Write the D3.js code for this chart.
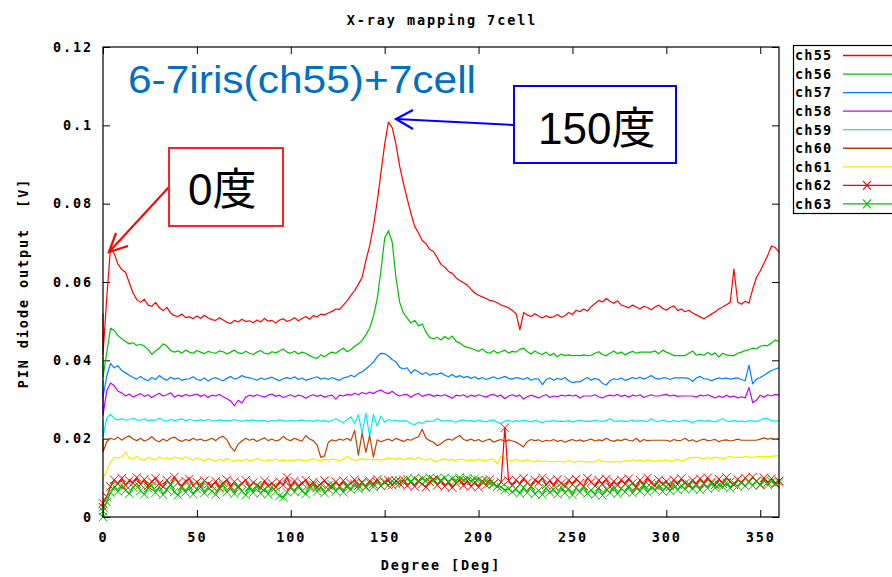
<!DOCTYPE html>
<html><head><meta charset="utf-8">
<script src="https://cdn.jsdelivr.net/npm/d3@7"></script>
<style>body{margin:0;background:#fff}svg{display:block}</style>
</head><body>
<svg id="c" width="892" height="577"></svg>
<script>
// Degree sampling grid (first point repeated at 0 deg, as in the recorded scan)
const degrees = [0].concat(d3.range(0, 361, 2));

const ch55 = [0.052,0.0414,0.056,0.0688,0.0672,0.0645,0.0632,0.0625,0.0598,0.0572,0.0555,
0.0548,0.0556,0.0541,0.0538,0.0548,0.0534,0.0527,0.0535,0.0521,0.0514,
0.0512,0.0518,0.0509,0.0511,0.0506,0.0513,0.0507,0.0515,0.0508,0.0504,
0.0502,0.0509,0.0503,0.0497,0.0494,0.0502,0.0498,0.0505,0.0499,0.0501,
0.0496,0.0503,0.0498,0.0507,0.0500,0.0502,0.0495,0.0503,0.0506,0.0499,
0.0503,0.0509,0.0501,0.0507,0.0512,0.0505,0.0514,0.0511,0.0518,0.0516,
0.0521,0.0525,0.0531,0.0530,0.0541,0.0552,0.0566,0.0578,0.0594,0.0612,
0.0655,0.0692,0.0742,0.0805,0.0878,0.0952,0.1008,0.0994,0.0952,0.0895,
0.0852,0.0812,0.0775,0.0742,0.0725,0.0706,0.0698,0.0683,0.0678,0.0662,
0.0645,0.0638,0.0627,0.0622,0.0611,0.0604,0.0598,0.0592,0.0581,0.0572,
0.0566,0.0562,0.0558,0.0553,0.0551,0.0547,0.0541,0.0538,0.0534,0.0527,
0.0519,0.0478,0.0522,0.0516,0.0512,0.0519,0.0513,0.0508,0.0514,0.0509,
0.0511,0.0517,0.0510,0.0514,0.0522,0.0517,0.0528,0.0524,0.0531,0.0526,
0.0537,0.0545,0.0553,0.0549,0.0558,0.0551,0.0546,0.0552,0.0541,0.0538,
0.0534,0.0541,0.0536,0.0531,0.0538,0.0535,0.0529,0.0536,0.0541,0.0533,
0.0528,0.0535,0.0539,0.0527,0.0531,0.0524,0.0528,0.0521,0.0516,0.0511,
0.0506,0.0512,0.0518,0.0524,0.0531,0.0536,0.0542,0.0548,0.0633,0.0549,
0.0543,0.0551,0.0546,0.0582,0.0612,0.0628,0.0648,0.0668,0.0692,0.0688,
0.0676];

const ch56 = [0.041,0.0357,0.042,0.0482,0.0476,0.0463,0.0455,0.0448,0.0442,0.0445,0.0438,
0.0441,0.0436,0.0428,0.0415,0.0424,0.0431,0.0442,0.0437,0.0425,0.0421,
0.0424,0.0419,0.0426,0.0421,0.0418,0.0425,0.0421,0.0417,0.0423,0.0420,
0.0418,0.0424,0.0422,0.0416,0.0421,0.0426,0.0419,0.0417,0.0423,0.0418,
0.0415,0.0421,0.0425,0.0418,0.0416,0.0422,0.0419,0.0424,0.0429,0.0421,
0.0418,0.0423,0.0416,0.0421,0.0418,0.0412,0.0408,0.0405,0.0414,0.0409,
0.0416,0.0421,0.0418,0.0425,0.0431,0.0422,0.0427,0.0436,0.0442,0.0451,
0.0465,0.0482,0.0512,0.0556,0.0628,0.0712,0.0731,0.0702,0.0612,0.0548,
0.0521,0.0508,0.0495,0.0502,0.0488,0.0493,0.0472,0.0458,0.0455,0.0459,
0.0452,0.0461,0.0454,0.0462,0.0449,0.0444,0.0437,0.0433,0.0431,0.0427,
0.0423,0.0429,0.0421,0.0418,0.0425,0.0419,0.0422,0.0426,0.0419,0.0423,
0.0421,0.0428,0.0431,0.0422,0.0416,0.0424,0.0418,0.0415,0.0421,0.0412,
0.0418,0.0409,0.0416,0.0412,0.0414,0.0412,0.0413,0.0412,0.0414,0.0412,
0.0413,0.0418,0.0422,0.0415,0.0412,0.0418,0.0424,0.0417,0.0421,0.0414,
0.0419,0.0423,0.0418,0.0421,0.0421,0.0421,0.0421,0.0424,0.0417,0.0426,
0.0421,0.0417,0.0412,0.0412,0.0412,0.0412,0.0418,0.0424,0.0413,0.0416,
0.0413,0.0420,0.0414,0.0419,0.0408,0.0418,0.0414,0.0412,0.0412,0.0418,
0.0421,0.0425,0.0427,0.0431,0.0429,0.0436,0.0438,0.0437,0.0444,0.0452,
0.0448];

const ch57 = [0.035,0.0306,0.036,0.0392,0.0381,0.0386,0.0374,0.0368,0.0362,0.0356,0.0352,
0.0359,0.0352,0.0348,0.0356,0.0351,0.0361,0.0354,0.0349,0.0357,0.0352,
0.0355,0.0349,0.0352,0.0353,0.0358,0.0351,0.0349,0.0355,0.0347,0.0353,
0.0356,0.0351,0.0348,0.0354,0.0359,0.0352,0.0355,0.0361,0.0357,0.0355,
0.0353,0.0349,0.0355,0.0351,0.0354,0.0357,0.0352,0.0348,0.0353,0.0356,
0.0353,0.0358,0.0351,0.0355,0.0349,0.0352,0.0355,0.0358,0.0352,0.0355,
0.0351,0.0356,0.0352,0.0349,0.0355,0.0357,0.0362,0.0358,0.0366,0.0371,
0.0378,0.0386,0.0395,0.0409,0.0418,0.0417,0.0411,0.0402,0.0396,0.0382,
0.0378,0.0381,0.0367,0.0376,0.0371,0.0364,0.0369,0.0362,0.0366,0.0364,
0.0368,0.0362,0.0358,0.0364,0.0357,0.0361,0.0356,0.0359,0.0354,0.0358,
0.0352,0.0356,0.0351,0.0354,0.0358,0.0353,0.0355,0.0359,0.0354,0.0352,
0.0356,0.0354,0.0351,0.0356,0.0349,0.0353,0.0352,0.0338,0.0351,0.0355,
0.0349,0.0354,0.0351,0.0356,0.0348,0.0343,0.0345,0.0345,0.0351,0.0356,
0.0349,0.0354,0.0351,0.0341,0.0337,0.0348,0.0353,0.0351,0.0355,0.0349,
0.0352,0.0356,0.0353,0.0357,0.0352,0.0356,0.0361,0.0354,0.0352,0.0355,
0.0355,0.0351,0.0355,0.0355,0.0355,0.0355,0.0354,0.0346,0.0355,0.0359,
0.0353,0.0352,0.0348,0.0352,0.0355,0.0353,0.0355,0.0352,0.0354,0.0355,
0.0351,0.0348,0.0388,0.0340,0.0352,0.0356,0.0362,0.0368,0.0374,0.0378,
0.0381];

const ch58 = [0.032,0.026,0.0322,0.0342,0.0335,0.0321,0.0317,0.0309,0.0314,0.0306,0.0311,
0.0315,0.0308,0.0312,0.0305,0.0311,0.0316,0.0309,0.0312,0.0317,0.0306,
0.0311,0.0308,0.0313,0.0309,0.0311,0.0314,0.0308,0.0312,0.0305,0.0311,
0.0309,0.0313,0.0307,0.0302,0.0296,0.0284,0.0298,0.0291,0.0306,0.0311,
0.0308,0.0312,0.0309,0.0306,0.0311,0.0314,0.0308,0.0311,0.0305,0.0309,
0.0312,0.0307,0.0311,0.0309,0.0303,0.0309,0.0312,0.0308,0.0311,0.0306,
0.0309,0.0311,0.0301,0.0311,0.0309,0.0313,0.0311,0.0316,0.0312,0.0318,
0.0314,0.0319,0.0315,0.0321,0.0324,0.0318,0.0315,0.0321,0.0313,0.0309,
0.0312,0.0313,0.0306,0.0312,0.0316,0.0308,0.0311,0.0313,0.0308,0.0311,
0.0309,0.0312,0.0308,0.0303,0.0311,0.0309,0.0312,0.0306,0.0311,0.0308,
0.0312,0.0309,0.0306,0.0311,0.0313,0.0308,0.0311,0.0302,0.0309,0.0312,
0.0308,0.0311,0.0301,0.0307,0.0311,0.0308,0.0304,0.0309,0.0312,0.0305,
0.0309,0.0307,0.0311,0.0309,0.0311,0.0309,0.0311,0.0304,0.0309,0.0309,
0.0309,0.0312,0.0307,0.0304,0.0309,0.0311,0.0309,0.0313,0.0308,0.0311,
0.0306,0.0311,0.0309,0.0312,0.0305,0.0309,0.0312,0.0309,0.0309,0.0311,
0.0313,0.0309,0.0311,0.0308,0.0309,0.0309,0.0309,0.0309,0.0306,0.0311,
0.0309,0.0312,0.0308,0.0304,0.0309,0.0305,0.0311,0.0306,0.0309,0.0304,
0.0307,0.0304,0.0331,0.0292,0.0298,0.0311,0.0306,0.0312,0.0309,0.0313,
0.0312];

const ch59 = [0.0248,0.0204,0.0253,0.0262,0.0251,0.0248,0.0251,0.0247,0.0249,0.0252,0.0248,
0.0247,0.0251,0.0246,0.0248,0.0247,0.0252,0.0247,0.0245,0.0249,0.0246,
0.0248,0.0251,0.0246,0.0249,0.0247,0.0246,0.0248,0.0246,0.0249,0.0247,
0.0245,0.0248,0.0246,0.0247,0.0246,0.0249,0.0246,0.0244,0.0247,0.0246,
0.0248,0.0245,0.0247,0.0246,0.0243,0.0247,0.0245,0.0248,0.0246,0.0244,
0.0247,0.0245,0.0246,0.0248,0.0245,0.0246,0.0244,0.0247,0.0245,0.0246,
0.0243,0.0247,0.0251,0.0245,0.0241,0.0248,0.0256,0.0238,0.0261,0.0214,
0.0265,0.0205,0.0262,0.0232,0.0258,0.0242,0.0249,0.0245,0.0247,0.0244,
0.0246,0.0245,0.0238,0.0236,0.0242,0.0239,0.0245,0.0244,0.0245,0.0251,
0.0246,0.0245,0.0247,0.0245,0.0242,0.0246,0.0248,0.0245,0.0246,0.0244,
0.0247,0.0245,0.0243,0.0246,0.0248,0.0242,0.0239,0.0245,0.0247,0.0243,
0.0246,0.0244,0.0247,0.0245,0.0243,0.0246,0.0244,0.0241,0.0245,0.0244,
0.0246,0.0244,0.0245,0.0244,0.0246,0.0243,0.0245,0.0247,0.0244,0.0245,
0.0244,0.0247,0.0245,0.0244,0.0246,0.0251,0.0245,0.0244,0.0246,0.0244,
0.0245,0.0247,0.0244,0.0246,0.0245,0.0244,0.0251,0.0245,0.0244,0.0247,
0.0245,0.0243,0.0246,0.0244,0.0245,0.0247,0.0244,0.0241,0.0245,0.0247,
0.0244,0.0246,0.0245,0.0243,0.0247,0.0251,0.0245,0.0244,0.0246,0.0244,
0.0245,0.0243,0.0246,0.0245,0.0244,0.0247,0.0252,0.0251,0.0246,0.0245,
0.0246];

const ch60 = [0.020,0.0166,0.0192,0.0201,0.0198,0.0204,0.0196,0.0203,0.0207,0.0199,0.0195,
0.0201,0.0194,0.0198,0.0205,0.0196,0.0192,0.0199,0.0194,0.0201,0.0204,
0.0197,0.0193,0.0198,0.0195,0.0201,0.0196,0.0199,0.0194,0.0197,0.0201,
0.0195,0.0203,0.0206,0.0197,0.0179,0.0168,0.0186,0.0194,0.0201,0.0196,
0.0199,0.0193,0.0198,0.0202,0.0195,0.0199,0.0194,0.0197,0.0206,0.0198,
0.0195,0.0201,0.0197,0.0194,0.0208,0.0199,0.0195,0.0184,0.0152,0.0156,
0.0191,0.0197,0.0194,0.0199,0.0196,0.0201,0.0195,0.0221,0.0158,0.0214,
0.0165,0.0208,0.0153,0.0197,0.0192,0.0196,0.0199,0.0194,0.0201,0.0197,
0.0193,0.0198,0.0196,0.0201,0.0205,0.0224,0.0201,0.0195,0.0191,0.0182,
0.0187,0.0195,0.0199,0.0196,0.0203,0.0208,0.0198,0.0195,0.0199,0.0194,
0.0198,0.0192,0.0196,0.0199,0.0191,0.0195,0.0198,0.0193,0.0197,0.0194,
0.0191,0.0185,0.0179,0.0193,0.0198,0.0195,0.0197,0.0192,0.0196,0.0194,
0.0198,0.0193,0.0196,0.0191,0.0195,0.0198,0.0194,0.0197,0.0193,0.0196,
0.0199,0.0194,0.0197,0.0195,0.0201,0.0196,0.0193,0.0197,0.0195,0.0199,
0.0196,0.0194,0.0201,0.0192,0.0198,0.0195,0.0196,0.0196,0.0196,0.0196,
0.0196,0.0193,0.0198,0.0195,0.0196,0.0201,0.0194,0.0197,0.0192,0.0196,
0.0199,0.0195,0.0196,0.0198,0.0192,0.0196,0.0197,0.0194,0.0196,0.0199,
0.0196,0.0196,0.0196,0.0196,0.0196,0.0199,0.0202,0.0199,0.0201,0.0198,
0.0201];

const ch61 = [0.0092,0.0098,0.0118,0.0140,0.0152,0.0151,0.0153,0.0166,0.0151,0.0148,0.0155,
0.0147,0.0145,0.0152,0.0149,0.0146,0.0153,0.0148,0.0151,0.0147,0.0153,
0.0151,0.0148,0.0154,0.0149,0.0145,0.0152,0.0147,0.0144,0.0149,0.0146,
0.0142,0.0147,0.0144,0.0149,0.0145,0.0142,0.0146,0.0143,0.0148,0.0144,
0.0145,0.0149,0.0146,0.0143,0.0146,0.0145,0.0148,0.0144,0.0146,0.0143,
0.0146,0.0144,0.0147,0.0145,0.0143,0.0146,0.0149,0.0145,0.0144,0.0147,
0.0145,0.0148,0.0146,0.0144,0.0147,0.0155,0.0148,0.0145,0.0146,0.0149,
0.0146,0.0148,0.0146,0.0147,0.0145,0.0147,0.0151,0.0149,0.0147,0.0151,
0.0146,0.0149,0.0151,0.0146,0.0152,0.0148,0.0145,0.0149,0.0144,0.0141,
0.0146,0.0149,0.0145,0.0147,0.0144,0.0148,0.0146,0.0143,0.0146,0.0144,
0.0147,0.0145,0.0143,0.0147,0.0148,0.0135,0.0156,0.0149,0.0145,0.0143,
0.0147,0.0144,0.0142,0.0146,0.0143,0.0141,0.0144,0.0141,0.0143,0.0141,
0.0141,0.0143,0.0141,0.0141,0.0144,0.0141,0.0141,0.0143,0.0141,0.0141,
0.0141,0.0141,0.0146,0.0143,0.0141,0.0141,0.0141,0.0141,0.0141,0.0144,
0.0142,0.0146,0.0143,0.0145,0.0142,0.0146,0.0144,0.0142,0.0145,0.0143,
0.0146,0.0142,0.0144,0.0147,0.0143,0.0146,0.0151,0.0152,0.0152,0.0151,
0.0148,0.0152,0.0149,0.0153,0.0151,0.0149,0.0151,0.0155,0.0152,0.0152,
0.0152,0.0154,0.0153,0.0152,0.0154,0.0155,0.0155,0.0155,0.0155,0.0156,
0.0156];

const ch62 = [0.0025,0.0035,0.0052,0.0078,0.0095,0.0084,0.0099,0.0081,0.0093,0.0087,0.0101,
0.0083,0.0096,0.0079,0.0091,0.0099,0.0085,0.0077,0.0094,0.0082,0.0102,
0.0088,0.0078,0.0092,0.0097,0.0080,0.0089,0.0076,0.0093,0.0084,0.0079,
0.0091,0.0076,0.0087,0.0095,0.0078,0.0090,0.0075,0.0086,0.0094,0.0077,
0.0088,0.0081,0.0075,0.0092,0.0079,0.0086,0.0076,0.0090,0.0082,0.0101,
0.0078,0.0092,0.0077,0.0086,0.0094,0.0079,0.0089,0.0075,0.0085,0.0093,
0.0081,0.0076,0.0090,0.0079,0.0093,0.0077,0.0086,0.0095,0.0080,0.0089,
0.0077,0.0092,0.0084,0.0096,0.0079,0.0088,0.0094,0.0081,0.0092,0.0085,
0.0095,0.0080,0.0089,0.0078,0.0093,0.0084,0.0076,0.0090,0.0096,0.0081,
0.0092,0.0078,0.0088,0.0075,0.0086,0.0095,0.0080,0.0093,0.0078,0.0089,
0.0076,0.0092,0.0081,0.0096,0.0085,0.0078,0.0089,0.0228,0.0093,0.0080,
0.0095,0.0084,0.0099,0.0087,0.0079,0.0094,0.0088,0.0100,0.0082,0.0093,
0.0080,0.0096,0.0086,0.0078,0.0094,0.0083,0.0097,0.0087,0.0079,0.0099,
0.0089,0.0079,0.0094,0.0084,0.0097,0.0077,0.0091,0.0081,0.0095,0.0084,
0.0098,0.0086,0.0078,0.0094,0.0083,0.0100,0.0087,0.0080,0.0095,0.0084,
0.0091,0.0078,0.0095,0.0083,0.0098,0.0086,0.0080,0.0094,0.0084,0.0098,
0.0086,0.0100,0.0089,0.0082,0.0097,0.0085,0.0101,0.0090,0.0082,0.0096,
0.0087,0.0100,0.0089,0.0102,0.0091,0.0083,0.0100,0.0088,0.0098,0.0086,
0.0092];

const ch63 = [0.0000,0.0015,0.0038,0.0062,0.0078,0.0065,0.0082,0.0068,0.0060,0.0076,0.0085,
0.0067,0.0058,0.0074,0.0080,0.0062,0.0077,0.0057,0.0070,0.0083,0.0064,
0.0056,0.0075,0.0063,0.0079,0.0058,0.0071,0.0084,0.0061,0.0076,0.0066,
0.0057,0.0072,0.0081,0.0063,0.0074,0.0059,0.0079,0.0066,0.0056,0.0075,
0.0062,0.0080,0.0060,0.0072,0.0058,0.0077,0.0065,0.0054,0.0050,0.0063,
0.0075,0.0064,0.0080,0.0066,0.0059,0.0074,0.0082,0.0065,0.0077,0.0061,
0.0071,0.0083,0.0066,0.0077,0.0063,0.0081,0.0070,0.0085,0.0072,0.0086,
0.0075,0.0087,0.0077,0.0089,0.0080,0.0091,0.0081,0.0092,0.0084,0.0093,
0.0088,0.0097,0.0092,0.0099,0.0091,0.0098,0.0093,0.0100,0.0092,0.0099,
0.0094,0.0100,0.0091,0.0098,0.0093,0.0101,0.0094,0.0099,0.0092,0.0098,
0.0095,0.0090,0.0093,0.0086,0.0084,0.0078,0.0076,0.0069,0.0072,0.0064,
0.0071,0.0060,0.0075,0.0062,0.0078,0.0059,0.0068,0.0057,0.0074,0.0063,
0.0070,0.0058,0.0076,0.0061,0.0072,0.0056,0.0074,0.0063,0.0078,0.0060,
0.0069,0.0057,0.0075,0.0055,0.0071,0.0062,0.0077,0.0059,0.0073,0.0064,
0.0079,0.0061,0.0074,0.0066,0.0080,0.0063,0.0076,0.0068,0.0082,0.0065,
0.0078,0.0067,0.0083,0.0069,0.0080,0.0071,0.0085,0.0072,0.0081,0.0069,
0.0084,0.0073,0.0086,0.0075,0.0082,0.0077,0.0088,0.0074,0.0087,0.0078,
0.0089,0.0079,0.0090,0.0080,0.0092,0.0081,0.0093,0.0082,0.0091,0.0083,
0.0088];

const seriesNames = ["ch55","ch56","ch57","ch58","ch59","ch60","ch61","ch62","ch63"];
const seriesValues = [ch55,ch56,ch57,ch58,ch59,ch60,ch61,ch62,ch63];
const seriesColors = ["#ff0000","#00c000","#0080ff","#c000ff","#00eeee","#c04000","#eeee00","#ff0000","#00c000"];
const seriesMarkers = [false,false,false,false,false,false,false,true,true];

const xTicks = [0,50,100,150,200,250,300,350];
const yTicks = [0,0.02,0.04,0.06,0.08,0.1,0.12];
const yTickLabels = ["0","0.02","0.04","0.06","0.08","0.1","0.12"];

const MONO = "'DejaVu Sans Mono', monospace";
const svg = d3.select("#c");
const x = d3.scaleLinear().domain([0,360]).range([103,779]);
const y = d3.scaleLinear().domain([0,0.12]).range([517,47]);

function styleAxis(g){
  g.select(".domain").remove();
  g.attr("font-family",MONO).attr("font-weight","bold").attr("font-size",13.5).attr("letter-spacing",1.9);
  g.selectAll(".tick line").attr("stroke","#000");
  g.selectAll(".tick text").attr("fill","#000");
}
svg.append("g").attr("transform",`translate(0,${y(0)})`)
  .call(d3.axisBottom(x).tickValues(xTicks).tickSize(-7).tickPadding(15).tickFormat(d=>String(d)))
  .call(styleAxis);
svg.append("g").attr("transform",`translate(${x(0)},0)`)
  .call(d3.axisLeft(y).tickValues(yTicks).tickSize(-7).tickPadding(10).tickFormat((d,i)=>yTickLabels[i]))
  .call(styleAxis);
svg.append("g").attr("transform",`translate(0,${y(0.12)})`)
  .call(d3.axisTop(x).tickValues(xTicks).tickSize(-7).tickFormat(""))
  .call(styleAxis);
svg.append("g").attr("transform",`translate(${x(360)},0)`)
  .call(d3.axisRight(y).tickValues(yTicks).tickSize(-7).tickFormat(""))
  .call(styleAxis);

// series
const line = d3.line().x((d,i)=>x(degrees[i])).y(d=>y(d));
const plot = svg.append("g");
seriesValues.forEach((vals,k)=>{
  const n = Math.min(vals.length, degrees.length);
  const v = vals.slice(0,n);
  plot.append("path").attr("d",line(v)).attr("fill","none")
    .attr("stroke",seriesColors[k]).attr("stroke-width",1.2).attr("stroke-linejoin","round");
  if(seriesMarkers[k]){
    plot.append("g").selectAll("path").data(v).join("path")
      .attr("transform",(d,i)=>`translate(${x(degrees[i])},${y(d)})`)
      .attr("d","M-4.2,-4.2L4.2,4.2M-4.2,4.2L4.2,-4.2")
      .attr("stroke",seriesColors[k]).attr("stroke-width",1).attr("fill","none");
  }
});

// frame
svg.append("rect").attr("x",x(0)).attr("y",y(0.12)).attr("width",x(360)-x(0)).attr("height",y(0)-y(0.12))
  .attr("fill","none").attr("stroke","#000").attr("stroke-width",1.2);

// title and axis labels
svg.append("text").attr("x",442).attr("y",25).attr("text-anchor","middle")
  .attr("font-family",MONO).attr("font-weight","bold").attr("font-size",13.5).attr("letter-spacing",1.9)
  .text("X-ray mapping 7cell");
svg.append("text").attr("x",441).attr("y",570).attr("text-anchor","middle")
  .attr("font-family",MONO).attr("font-weight","bold").attr("font-size",13.5).attr("letter-spacing",1.9)
  .text("Degree [Deg]");
svg.append("text").attr("transform","translate(28,283) rotate(-90)").attr("text-anchor","middle")
  .attr("font-family",MONO).attr("font-weight","bold").attr("font-size",13.5).attr("letter-spacing",1.9)
  .attr("xml:space","preserve").style("white-space","pre")
  .text("PIN diode output  [V]");

// legend
const lg = svg.append("g");
lg.append("rect").attr("x",793.5).attr("y",45.5).attr("width",130).attr("height",168)
  .attr("fill","#fff").attr("stroke","#000").attr("stroke-width",1.2);
seriesNames.forEach((nm,k)=>{
  const yy = 55.5 + k*18.55;
  lg.append("text").attr("x",795).attr("y",yy).attr("dy","0.36em")
    .attr("font-family",MONO).attr("font-weight","bold").attr("font-size",13.5).attr("letter-spacing",1.2)
    .text(nm);
  lg.append("line").attr("x1",843).attr("x2",900).attr("y1",yy).attr("y2",yy)
    .attr("stroke",seriesColors[k]).attr("stroke-width",1.3);
  if(seriesMarkers[k]){
    lg.append("path").attr("transform",`translate(867,${yy})`).attr("d","M-4,-4.5L4,4.5M-4,4.5L4,-4.5")
      .attr("stroke",seriesColors[k]).attr("stroke-width",1.1).attr("fill","none");
  }
});

// annotations
const SANS = "'Liberation Sans', Arial, 'Noto Sans CJK JP', sans-serif";
svg.append("text").attr("x",128).attr("y",93).attr("font-family",SANS).attr("font-size",38)
  .attr("fill","#0070C0").attr("textLength",348).attr("lengthAdjust","spacingAndGlyphs")
  .text("6-7iris(ch55)+7cell");

// 0度 box and arrow
svg.append("line").attr("x1",169).attr("y1",187).attr("x2",109).attr("y2",252)
  .attr("stroke","#ff0000").attr("stroke-width",2);
svg.append("path").attr("d","M128,246 L109,252 L116,233").attr("fill","none")
  .attr("stroke","#ff0000").attr("stroke-width",2.2);
svg.append("rect").attr("x",169).attr("y",148).attr("width",114).attr("height",78)
  .attr("fill","#fff").attr("stroke","#ff2020").attr("stroke-width",2);
svg.append("text").attr("x",188).attr("y",205).attr("font-family",SANS).attr("font-size",44)
  .attr("fill","#000").text("0度");

// 150度 box and arrow
svg.append("line").attr("x1",514).attr("y1",125).attr("x2",396).attr("y2",119)
  .attr("stroke","#0000ff").attr("stroke-width",2);
svg.append("path").attr("d","M413,110 L396,119 L413,129").attr("fill","none")
  .attr("stroke","#0000ff").attr("stroke-width",2.2);
svg.append("rect").attr("x",514).attr("y",86).attr("width",162).attr("height",77)
  .attr("fill","#fff").attr("stroke","#0000ff").attr("stroke-width",2);
svg.append("text").attr("x",538).attr("y",144).attr("font-family",SANS).attr("font-size",44)
  .attr("fill","#000").text("150度");
</script>
</body></html>
